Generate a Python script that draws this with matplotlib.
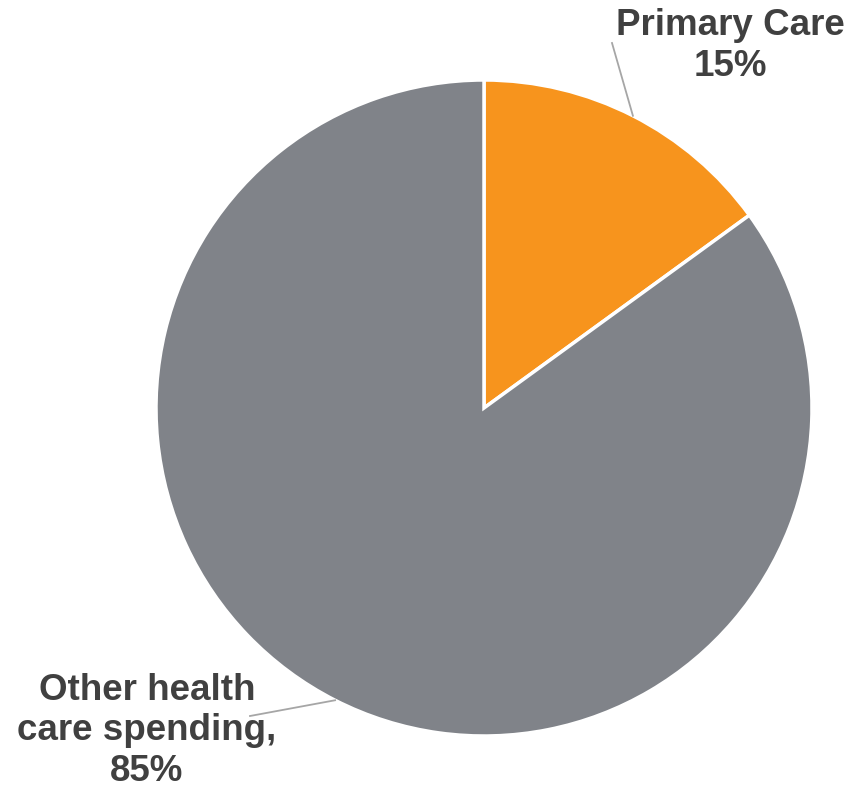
import numpy as np
import matplotlib.pyplot as plt

labels = ['Primary Care\n15%', 'Other health\ncare spending,\n85%']
values = [15, 85]
colors = ['#F7941D', '#808389']

plt.rcParams['font.family'] = ['Liberation Sans', 'DejaVu Sans']

fig = plt.figure(figsize=(8.56, 7.91), dpi=100)
ax = fig.add_axes([0, 0, 1, 1])

cx, cy, r = 484, 383, 328
ax.pie(values, colors=colors, startangle=90, counterclock=False,
       center=(cx, cy), radius=r, frame=True,
       wedgeprops=dict(edgecolor='white', linewidth=2.5))
ax.set_xlim(0, 856)
ax.set_ylim(0, 791)
ax.axis('off')

# leader lines: angle on the rim, outer end, label centre
leaders = [
    (63, (612, 748), (730, 745)),
    (243, (250, 75), (147, 60)),
]
for text, (ang, end, pos) in zip(labels, leaders):
    a = np.deg2rad(ang)
    x0, y0 = cx + r * np.cos(a), cy + r * np.sin(a)
    ax.plot([x0, end[0]], [y0, end[1]], color='#A6A6A6', lw=1.3)
    ax.text(pos[0], pos[1], text, ha='center', va='center', fontsize=26.5,
            fontweight='bold', color='#404040', linespacing=1.2)

fig.savefig('out.png', dpi=100)
